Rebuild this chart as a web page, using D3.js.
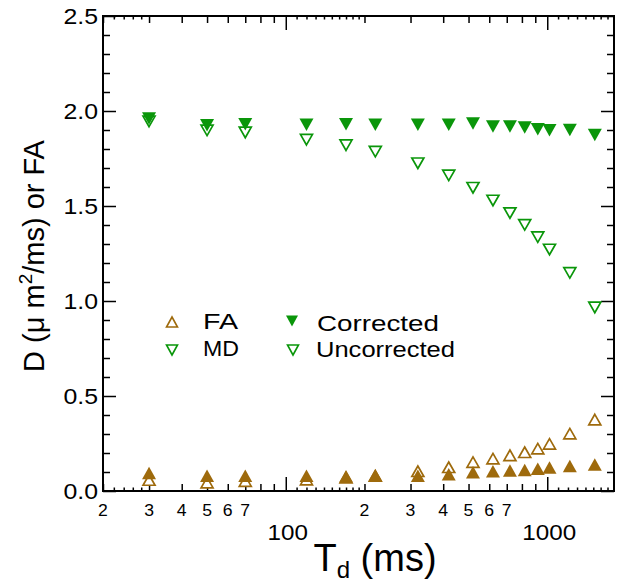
<!DOCTYPE html>
<html><head><meta charset="utf-8">
<script src="https://cdn.jsdelivr.net/npm/d3@7/dist/d3.min.js"></script>
<style>
html,body{margin:0;padding:0;background:#fff;}
svg text{font-family:"Liberation Sans",Arial,Helvetica,sans-serif;fill:#000;}
</style></head>
<body><svg id="chart" width="624" height="587"></svg>
<script>
// ---- data ----
const tdValues      = [30, 50, 70, 120, 170, 220, 320, 420, 520, 620, 720, 820, 920, 1020, 1220, 1520];
const mdCorrected   = [1.96, 1.925, 1.93, 1.928, 1.93, 1.928, 1.928, 1.928, 1.934, 1.918, 1.918, 1.913, 1.904, 1.899, 1.90, 1.874];
const mdUncorrected = [1.945, 1.898, 1.887, 1.849, 1.82, 1.786, 1.725, 1.661, 1.596, 1.529, 1.463, 1.401, 1.336, 1.271, 1.148, 0.966];
const faCorrected   = [0.095, 0.080, 0.080, 0.080, 0.077, 0.083, 0.080, 0.088, 0.099, 0.104, 0.108, 0.110, 0.117, 0.124, 0.131, 0.140];
const faUncorrected = [0.058, 0.044, 0.052, 0.060, 0.070, 0.080, 0.104, 0.125, 0.152, 0.170, 0.188, 0.204, 0.223, 0.248, 0.302, 0.376];

const xMajorTicks  = [100, 1000];
const xMediumTicks = [20, 30, 40, 50, 60, 70, 80, 90, 200, 300, 400, 500, 600, 700, 800, 900];
const xMinorTicks  = [22, 24, 26, 28, 110, 120, 130, 140, 150, 160, 170, 180, 190, 1100, 1200, 1300, 1400, 1500, 1600, 1700];
const xSmallLabels = [[20, "2"], [30, "3"], [40, "4"], [50, "5"], [60, "6"], [70, "7"],
                      [200, "2"], [300, "3"], [400, "4"], [500, "5"], [600, "6"], [700, "7"]];
const xBigLabels   = [[100, "100"], [1000, "1000"]];
const yMajorTicks  = [0, 0.5, 1.0, 1.5, 2.0, 2.5];
const yMinorTicks  = d3.range(1, 25).map(i => i / 10).filter(v => Math.abs(v * 2 - Math.round(v * 2)) > 1e-6);

const brown = "#9E6A0C", green = "#0A960A";

// ---- layout ----
const L = 103, R = 614, T = 16, B = 491;
const svg = d3.select("#chart");
const x = d3.scaleLog().domain([20, 1800]).range([L, R]);
const y = d3.scaleLinear().domain([0, 2.5]).range([B, T]);

function stretch(sel, f) {
  sel.each(function () {
    const w = this.getComputedTextLength();
    d3.select(this).attr("textLength", w * f).attr("lengthAdjust", "spacingAndGlyphs");
  });
}

// ---- axes (ticks inward) ----
function xTicks(vals, len) {
  svg.append("g").attr("transform", `translate(0,${B})`)
    .call(d3.axisBottom(x).tickValues(vals).tickSize(-len).tickFormat(""))
    .call(g => g.select(".domain").remove());
  svg.append("g").attr("transform", `translate(0,${T})`)
    .call(d3.axisTop(x).tickValues(vals).tickSize(-len).tickFormat(""))
    .call(g => g.select(".domain").remove());
}
xTicks(xMajorTicks, 14);
xTicks(xMediumTicks, 7);
xTicks(xMinorTicks, 3.5);

function yTicks(vals, len) {
  svg.append("g").attr("transform", `translate(${L},0)`)
    .call(d3.axisLeft(y).tickValues(vals).tickSize(-len).tickFormat(""))
    .call(g => g.select(".domain").remove());
  svg.append("g").attr("transform", `translate(${R},0)`)
    .call(d3.axisRight(y).tickValues(vals).tickSize(-len).tickFormat(""))
    .call(g => g.select(".domain").remove());
}
yTicks(yMajorTicks, 13);
yTicks(yMinorTicks, 7);
svg.selectAll(".tick line").attr("stroke", "#000").attr("stroke-width", 1.5);

svg.append("rect").attr("x", L).attr("y", T).attr("width", R - L).attr("height", B - T)
  .attr("fill", "none").attr("stroke", "#000").attr("stroke-width", 2);

// tick labels
const yl = svg.append("g").selectAll("text").data(yMajorTicks).join("text")
  .attr("x", L - 5).attr("y", d => y(d) + 8).attr("text-anchor", "end")
  .attr("font-size", 22).text(d3.format(".1f"));
stretch(yl, 1.13);

const xs = svg.append("g").selectAll("text").data(xSmallLabels).join("text")
  .attr("x", d => x(d[0])).attr("y", 516).attr("text-anchor", "middle")
  .attr("font-size", 16).text(d => d[1]);
stretch(xs, 1.1);
const xb = svg.append("g").selectAll("text").data(xBigLabels).join("text")
  .attr("x", d => x(d[0]) + 2).attr("y", 540).attr("text-anchor", "middle")
  .attr("font-size", 22).text(d => d[1]);
stretch(xb, 1.1);

// axis titles
const xt = svg.append("text").attr("x", 375).attr("y", 571).attr("text-anchor", "middle").attr("font-size", 38);
xt.append("tspan").text("T");
xt.append("tspan").attr("font-size", 24).attr("dy", 7).text("d");
xt.append("tspan").attr("dy", -7).text(" (ms)");

const yt = svg.append("text").attr("transform", "translate(44,256) rotate(-90)")
  .attr("text-anchor", "middle").attr("font-size", 29);
yt.append("tspan").text("D (\u03bc m");
yt.append("tspan").attr("font-size", 19).attr("dy", -12).text("2");
yt.append("tspan").attr("dy", 12).text("/ms) or FA");

// ---- markers ----
function tri(w, h, up) {
  return up ? `M0,${-h / 2}L${w / 2},${h / 2}L${-w / 2},${h / 2}Z`
            : `M0,${h / 2}L${w / 2},${-h / 2}L${-w / 2},${-h / 2}Z`;
}
function series(vals, up, filled, color) {
  svg.append("g").selectAll("path").data(vals).join("path")
    .attr("transform", (d, i) => `translate(${x(tdValues[i])},${y(d)})`)
    .attr("d", filled ? tri(14, 12.5, up) : tri(12, 10.5, up))
    .attr("fill", filled ? color : "#fff")
    .attr("stroke", filled ? "none" : color)
    .attr("stroke-width", 1.7);
}
series(mdUncorrected, false, false, green);
series(faUncorrected, true, false, brown);
series(mdCorrected, false, true, green);
series(faCorrected, true, true, brown);

// ---- legend ----
const legend = [
  {mx: 172, my: 322, up: true, filled: false, color: brown, tx: 203, ty: 329, label: "FA", w: 35},
  {mx: 172, my: 350, up: false, filled: false, color: green, tx: 203, ty: 356, label: "MD", w: 36},
  {mx: 292, my: 321, up: false, filled: true, color: green, tx: 317, ty: 331, label: "Corrected", w: 122},
  {mx: 293, my: 350, up: false, filled: false, color: green, tx: 316, ty: 357, label: "Uncorrected", w: 139}
];
const lg = svg.append("g");
lg.selectAll("path").data(legend).join("path")
  .attr("transform", d => `translate(${d.mx},${d.my})`)
  .attr("d", d => d.filled ? tri(12, 11, d.up) : tri(11, 10, d.up))
  .attr("fill", d => d.filled ? d.color : "#fff")
  .attr("stroke", d => d.filled ? "none" : d.color)
  .attr("stroke-width", 1.6);
lg.selectAll("text").data(legend).join("text")
  .attr("x", d => d.tx).attr("y", d => d.ty).attr("font-size", 22)
  .attr("textLength", d => d.w).attr("lengthAdjust", "spacingAndGlyphs")
  .text(d => d.label);
</script></body></html>
